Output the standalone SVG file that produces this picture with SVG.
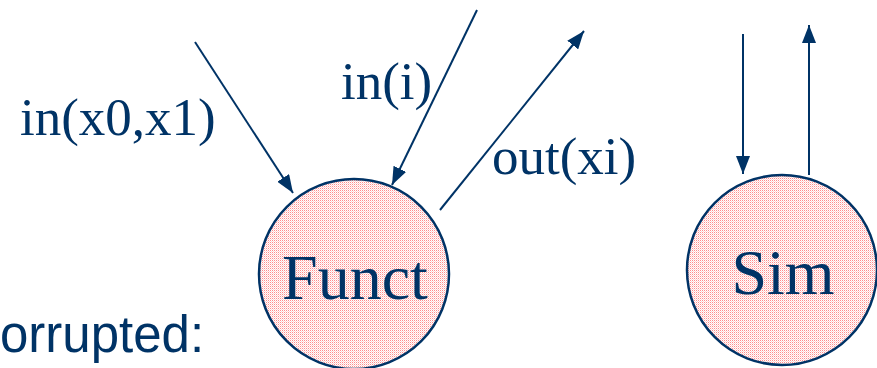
<svg xmlns="http://www.w3.org/2000/svg" width="877" height="368" viewBox="0 0 877 368">
<style>
.serif{font-family:"Liberation Serif","Times New Roman",serif;fill:#003366}
.lbl{font-size:53px}
.node{font-size:64px}
.sans{font-family:"Liberation Sans",Arial,sans-serif;fill:#003366;font-size:51px}
.circ{fill:url(#dots);stroke:#003366;stroke-width:2.5}
.conn{stroke:#003366;stroke-width:2;fill:none;marker-end:url(#ah)}
</style>
<defs>
<pattern id="dots" width="2" height="2" patternUnits="userSpaceOnUse">
<rect width="2" height="2" fill="#ffffff"/>
<rect width="1" height="1" fill="#ff8c8c"/>
<rect x="1" y="1" width="1" height="1" fill="#ffd4d4"/>
</pattern>
<marker id="ah" markerUnits="userSpaceOnUse" markerWidth="18" markerHeight="14" refX="18" refY="7" orient="auto">
<path d="M0,0 L18,7 L0,14 z" fill="#003366"/>
</marker>
</defs>
<rect width="877" height="368" fill="#ffffff"/>
<g id="connectors">
<line class="conn" x1="195" y1="42" x2="293" y2="193"/>
<line class="conn" x1="477" y1="10" x2="392" y2="185"/>
<line class="conn" x1="440" y1="210" x2="584" y2="31"/>
<line class="conn" x1="743" y1="34" x2="743" y2="174"/>
<line class="conn" x1="809" y1="175" x2="809" y2="25"/>
</g>
<g id="funct">
<circle class="circ" cx="354" cy="274" r="95"/>
<text class="serif node" x="355" y="299" text-anchor="middle">Funct</text>
</g>
<g id="sim">
<circle class="circ" cx="782" cy="270" r="95"/>
<text class="serif node" x="783" y="294" text-anchor="middle">Sim</text>
</g>
<g id="labels">
<text class="serif lbl" x="20" y="135">in(x0,x1)</text>
<text class="serif lbl" x="341" y="99">in(i)</text>
<text class="serif lbl" x="492" y="174">out(xi)</text>
<text class="sans" x="0" y="352">orrupted:</text>
</g>
</svg>
